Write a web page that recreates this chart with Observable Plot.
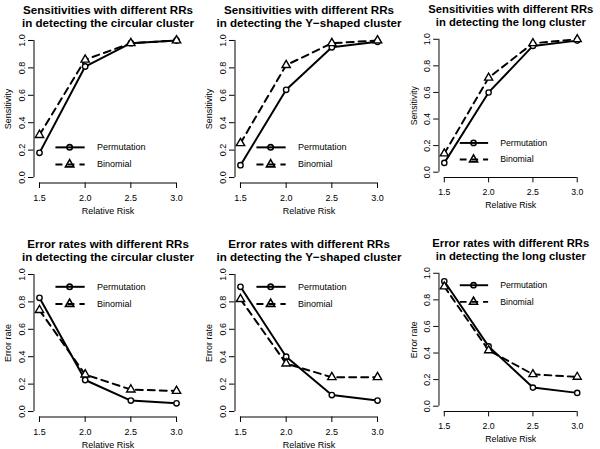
<!DOCTYPE html>
<html>
<head>
<meta charset="utf-8">
<script src="https://cdn.jsdelivr.net/npm/d3@7"></script>
<script src="https://cdn.jsdelivr.net/npm/@observablehq/plot@0.6"></script>
<style>
  html, body { margin: 0; padding: 0; background: #fff; }
  #fig { position: relative; width: 600px; height: 449px; overflow: hidden; background: #fff; }
  .panel { position: absolute; }
</style>
</head>
<body>
<div id="fig"></div>
<script>
// ---- data ----
const rr = [1.5, 2.0, 2.5, 3.0];
const xTicks = [1.5, 2.0, 2.5, 3.0];
const yTicks = [0, 0.2, 0.4, 0.6, 0.8, 1.0];
const seriesNames = ["Permutation", "Binomial"];

const sensPermCircular  = [0.18, 0.81, 0.98, 1.00];
const sensBinomCircular = [0.31, 0.86, 0.98, 1.00];
const sensPermY         = [0.09, 0.64, 0.95, 0.99];
const sensBinomY        = [0.25, 0.82, 0.98, 1.00];
const sensPermLong      = [0.07, 0.60, 0.95, 0.99];
const sensBinomLong     = [0.14, 0.71, 0.97, 1.00];

const errPermCircular   = [0.83, 0.23, 0.08, 0.06];
const errBinomCircular  = [0.74, 0.27, 0.16, 0.15];
const errPermY          = [0.91, 0.40, 0.12, 0.08];
const errBinomY         = [0.82, 0.35, 0.25, 0.25];
const errPermLong       = [0.94, 0.45, 0.14, 0.10];
const errBinomLong      = [0.90, 0.42, 0.24, 0.22];

const clusterNames = ["circular", "Y\u2212shaped", "long"];

const panels = [
  {row: 0, col: 0, title: `Sensitivities with different RRs\nin detecting the ${clusterNames[0]} cluster`, ylab: "Sensitivity", perm: sensPermCircular, binom: sensBinomCircular},
  {row: 0, col: 1, title: `Sensitivities with different RRs\nin detecting the ${clusterNames[1]} cluster`, ylab: "Sensitivity", perm: sensPermY, binom: sensBinomY},
  {row: 0, col: 2, title: `Sensitivities with different RRs\nin detecting the ${clusterNames[2]} cluster`, ylab: "Sensitivity", perm: sensPermLong, binom: sensBinomLong},
  {row: 1, col: 0, title: `Error rates with different RRs\nin detecting the ${clusterNames[0]} cluster`, ylab: "Error rate", perm: errPermCircular, binom: errBinomCircular},
  {row: 1, col: 1, title: `Error rates with different RRs\nin detecting the ${clusterNames[1]} cluster`, ylab: "Error rate", perm: errPermY, binom: errBinomY},
  {row: 1, col: 2, title: `Error rates with different RRs\nin detecting the ${clusterNames[2]} cluster`, ylab: "Error rate", perm: errPermLong, binom: errBinomLong}
];

// ---- layout ----
const colLeft = [0, 201, 406];
const rowTop = [0, 234];
const legendRowsY = [[0.22, 0.095], [0.91, 0.785]]; // legend rows (data units) per figure row
const legendX = {x1: 1.68, x2: 2.0, pt: 1.83, text: 2.13};

function pad(lo, hi) { const p = 0.04 * (hi - lo); return [lo - p, hi + p]; }
const xDom = pad(1.5, 3.0);
const yDom = pad(0, 1);

const fig = document.getElementById("fig");
const font = "'Liberation Sans', Arial, Helvetica, sans-serif";

for (const p of panels) {
  const perm = rr.map((x, i) => ({x, y: p.perm[i]}));
  const binom = rr.map((x, i) => ({x, y: p.binom[i]}));
  const ly = legendRowsY[p.row];
  const leg = seriesNames.map((name, i) => ({name, y: ly[i], dash: i === 1}));

  const chart = Plot.plot({
    width: 200,
    height: 215,
    marginLeft: 33.5,
    marginRight: 18.5,
    marginTop: 34.5,
    marginBottom: 32.5,
    style: {fontFamily: font, fontSize: "9px", background: "white", color: "black", overflow: "visible"},
    x: {domain: xDom},
    y: {domain: yDom},
    marks: [
      // axes
      Plot.ruleY([yDom[0]], {x1: xTicks[0], x2: xTicks[xTicks.length - 1], stroke: "black", strokeWidth: 1}),
      Plot.ruleX([xDom[0]], {y1: yTicks[0], y2: yTicks[yTicks.length - 1], stroke: "black", strokeWidth: 1}),
      Plot.axisX(xTicks, {tickSize: 5.5, tickPadding: 6, tickFormat: d => d.toFixed(1), fontSize: 9, label: null, stroke: "black", strokeOpacity: 1, color: "black"}),
      Plot.axisY(yTicks, {tickSize: 5.5, tickFormat: () => "", label: null, stroke: "black", strokeOpacity: 1}),
      Plot.text(yTicks, {y: d => d, frameAnchor: "left", dx: -12, rotate: -90, text: d => d.toFixed(1), textAnchor: "middle", lineAnchor: "middle", fontSize: 9, fill: "black"}),
      Plot.text([p.ylab], {frameAnchor: "left", dx: -26, rotate: -90, text: d => d, textAnchor: "middle", lineAnchor: "middle", fontSize: 9, fill: "black"}),
      Plot.text(["Relative Risk"], {frameAnchor: "bottom", dy: 28.5, text: d => d, textAnchor: "middle", lineAnchor: "middle", fontSize: 9, fill: "black"}),
      Plot.text([p.title], {frameAnchor: "top", dy: -8.5, text: d => d, textAnchor: "middle", lineAnchor: "bottom", lineHeight: 1.1, fontSize: 11.6, fontWeight: "bold", fill: "black"}),
      // data lines
      Plot.line(perm, {x: "x", y: "y", stroke: "black", strokeWidth: 2}),
      Plot.line(binom, {x: "x", y: "y", stroke: "black", strokeWidth: 2, strokeDasharray: "7,5"}),
      Plot.dot(perm, {x: "x", y: "y", r: 2.7, stroke: "black", strokeWidth: 1.4, fill: "white"}),
      Plot.dot(binom, {x: "x", y: "y", r: 3.1, symbol: "triangle", stroke: "black", strokeWidth: 1.4, fill: "white"}),
      // legend
      Plot.ruleY(leg.filter(d => !d.dash), {y: "y", x1: legendX.x1, x2: legendX.x2, stroke: "black", strokeWidth: 2}),
      Plot.ruleY(leg.filter(d => d.dash), {y: "y", x1: legendX.x1, x2: legendX.x2, stroke: "black", strokeWidth: 2, strokeDasharray: "7,5"}),
      Plot.dot(leg.filter(d => !d.dash), {x: legendX.pt, y: "y", r: 2.7, stroke: "black", strokeWidth: 1.6, fill: "none"}),
      Plot.dot(leg.filter(d => d.dash), {x: legendX.pt, y: "y", r: 3.1, symbol: "triangle", stroke: "black", strokeWidth: 1.6, fill: "none"}),
      Plot.text(leg, {x: legendX.text, y: "y", text: "name", textAnchor: "start", lineAnchor: "middle", fontSize: 9, fill: "black"})
    ]
  });
  const div = document.createElement("div");
  div.className = "panel";
  div.style.left = colLeft[p.col] + "px";
  div.style.top = rowTop[p.row] + "px";
  div.appendChild(chart);
  fig.appendChild(div);
}
</script>
</body>
</html>
